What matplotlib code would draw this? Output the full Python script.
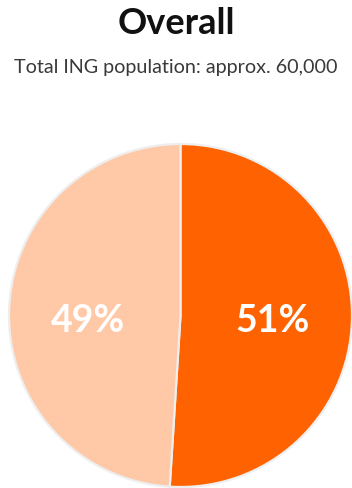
import matplotlib
matplotlib.use("Agg")
import matplotlib.pyplot as plt

labels = ["Group A", "Group B"]
values = [51, 49]
colors = ["#FF6200", "#FFC8A6"]

title = "Overall"
subtitle = "Total ING population: approx. 60,000"

fig = plt.figure(figsize=(3.52, 4.88), dpi=100)
fig.patch.set_facecolor("white")

ax = fig.add_axes([9/352, 1/488, 343/352, 343/488])
wedges, texts, autotexts = ax.pie(
    values, colors=colors, startangle=90, counterclock=False,
    autopct=lambda p: f"{p:.0f}%", pctdistance=0.54,
    wedgeprops=dict(edgecolor="#EEEEEE", linewidth=1.6),
    textprops=dict(color="white", fontsize=27, fontweight="bold", family="Lato"),
)
for t in autotexts:
    x, y = t.get_position()
    t.set_position((x, -0.03))
ax.set_aspect("equal")
ax.set_xlim(-1.0, 1.0)
ax.set_ylim(-1.0, 1.0)

fig.text(0.5, 1 - 23/488, title, ha="center", va="center", fontsize=26,
         fontweight="bold", family="Lato", color="#111111")
fig.text(0.5, 1 - 68/488, subtitle, ha="center", va="center", fontsize=14.2,
         family="Lato", color="#3a3a3a")

fig.savefig("out.png", dpi=100)
